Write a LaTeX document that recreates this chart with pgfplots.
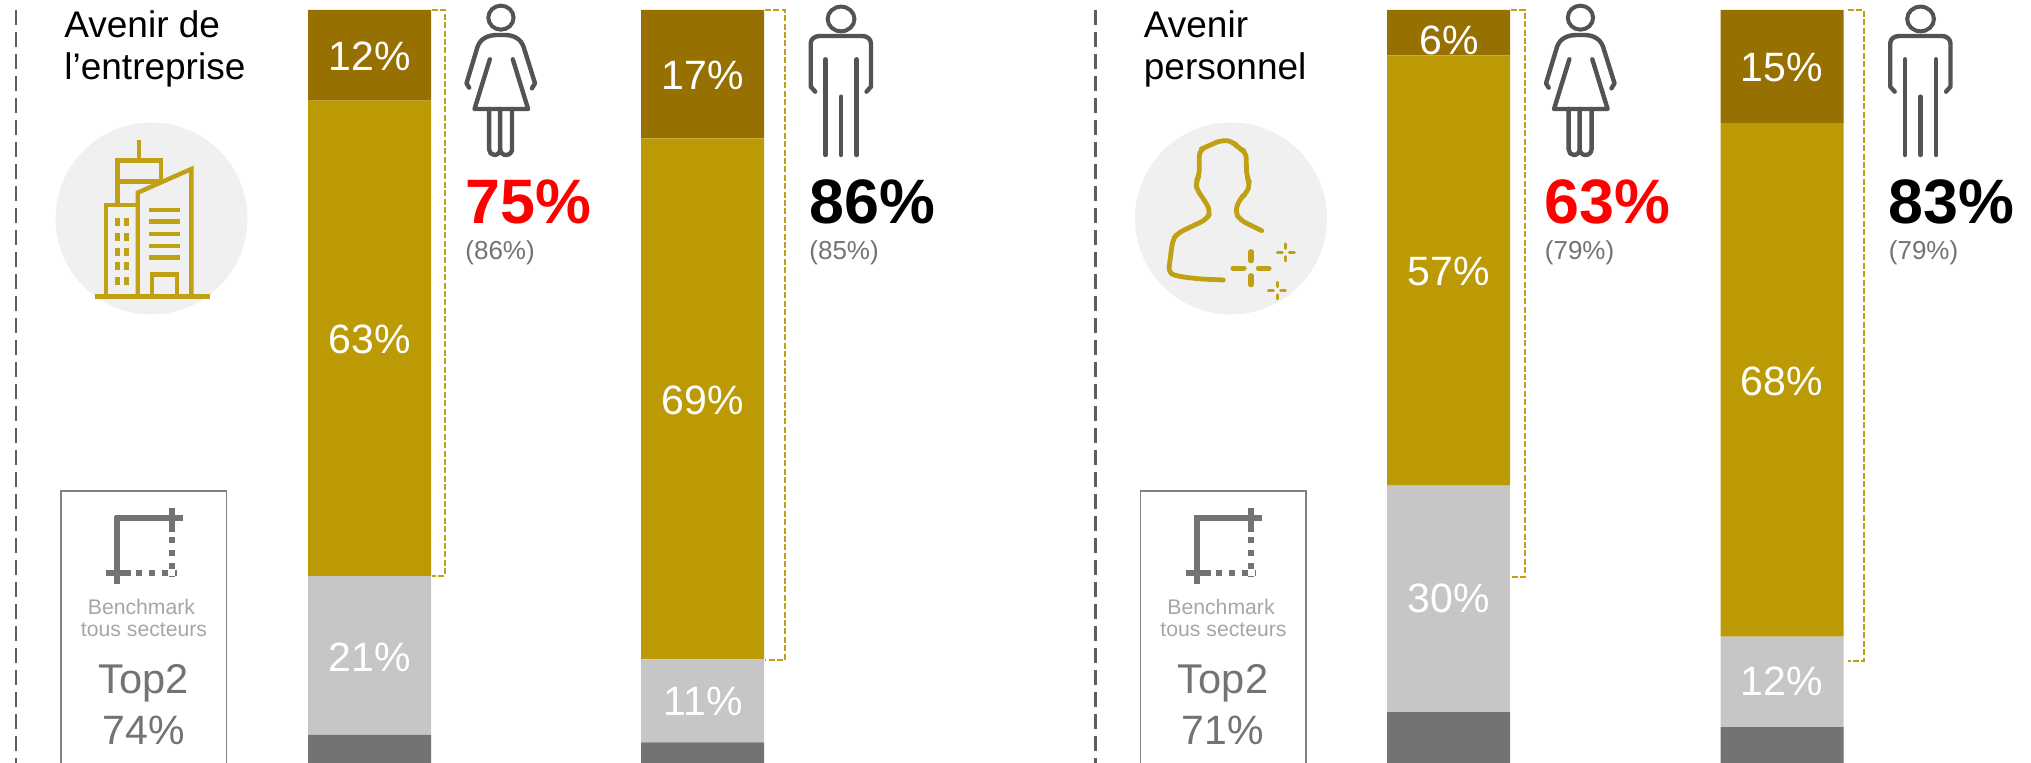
\documentclass[border=0pt]{standalone}
\usepackage{fontspec}
\setmainfont{Liberation Sans}
\usepackage{pgfplots}
\usepackage{pgfplotstable}
\pgfplotsset{compat=1.18}
\definecolor{topgold}{HTML}{967000}
\definecolor{gold}{HTML}{BC9A06}
\definecolor{lgrey}{HTML}{C6C6C6}
\definecolor{dgrey}{HTML}{737373}
\definecolor{icon}{HTML}{C0A015}
\definecolor{circ}{HTML}{F0F0F0}
\definecolor{bench}{HTML}{A6A6A6}
\definecolor{pers}{HTML}{404040}
\pgfplotstableread{
x rest neutral agree strong
369.5 4 21 63 12
702.5 3 11 69 17
1448.5 7 30 57 6
1782 5 12 68 15
}\bars
\newcommand{\fs}[1]{\fontsize{#1}{#1}\selectfont}
% ---- one panel's furniture, in pixel coordinates
\newcommand{\commonpanel}[6]{%
  % dashed separator
  \draw[pers!85,line width=1.1pt,dash pattern=on 7.5pt off 3.5pt] (16,10)--(16,770);
  % title
  \node[anchor=base west,inner sep=0pt] at (64,38) {\fs{18.5}#1};
  \node[anchor=base west,inner sep=0pt] at (64,80) {\fs{18.5}#2};
  % circle
  \fill[circ] (151.5,218.5) circle[radius=48pt];
  % benchmark box
  \draw[dgrey!90,line width=0.8pt] (61,800)--(61,491)--(226.5,491)--(226.5,800);
  \begin{scope}[x=0.19135pt,y=-0.16667pt,shift={(0,1320)}]
    \draw[dgrey,line width=3pt] (300,235)--(478,235);
    \draw[dgrey,line width=3pt] (307,228)--(307,432);
    \draw[dgrey,line width=3pt] (449,203)--(449,277);
    \draw[dgrey,line width=3pt] (278,400)--(343,400);
    \draw[dgrey,line width=3pt,dash pattern=on 3pt off 3.5pt] (449,292)--(449,412);
    \draw[dgrey,line width=3pt,dash pattern=on 3pt off 3.5pt] (356,400)--(462,400);
  \end{scope}
  \node[text=bench,anchor=base,inner sep=0pt] at (141.5,615) {\fs{10.6}Benchmark};
  \node[text=bench,anchor=base,inner sep=0pt] at (144,637) {\fs{10.6}tous secteurs};
  \node[text=dgrey,anchor=base,inner sep=0pt] at (143.5,694) {\fs{20.8}Top2};
  \node[text=dgrey,anchor=base,inner sep=0pt] at (143.5,745) {\fs{20.5}#3};
  % woman
  \begin{scope}[x=0.19135pt,y=-0.16667pt,xshift=0pt]
    \draw[pers!90,line width=2pt,line join=round,line cap=round]
      (1309,53) ellipse[x radius=33,y radius=36];
    \draw[pers!90,line width=2.2pt,line join=round,line cap=round]
      (1226,263)--(1219,250)--(1248,140) to[out=70,in=180] (1300,105)--(1318,105) to[out=0,in=110] (1368,140)--(1398,250)--(1390,265);
    \draw[pers!90,line width=2.2pt,line join=round,line cap=round]
      (1280,178)--(1240,327)--(1380,327)--(1340,178);
    \draw[pers!90,line width=2.2pt,line join=round,line cap=round]
      (1278,327)--(1278,448) to[out=-90,in=180] (1292,465) to[out=0,in=-90] (1307,448)--(1307,327);
    \draw[pers!90,line width=2.2pt,line join=round,line cap=round]
      (1338,327)--(1338,448) to[out=-90,in=0] (1322,465) to[out=180,in=-90] (1307,448);
  \end{scope}
  % man
  \begin{scope}[shift={(600,0)},x=0.22321pt,y=-0.16667pt]
    \draw[pers!90,line width=2pt] (540,57) ellipse[x radius=30,y radius=37];
    \draw[pers!90,line width=2.2pt,line join=round,line cap=round]
      (482,275)--(472,260)--(472,130) to[out=90,in=180] (492,108)--(587,108) to[out=0,in=90] (607,130)--(607,260)--(597,275);
    \draw[pers!90,line width=2.2pt,line cap=round] (505,178)--(505,465);
    \draw[pers!90,line width=2.2pt,line cap=round] (575,178)--(575,465);
    \draw[pers!90,line width=2.2pt,line cap=round] (540,290)--(540,465);
  \end{scope}
  % big numbers
  \node[text=#4,anchor=base west,inner sep=0pt] at (465,224) {\fs{31.4}\bfseries #5};
  \node[text=dgrey,anchor=base west,inner sep=0pt] at (465,260) {\fs{13}#6};
}
\begin{document}
\begin{tikzpicture}
\useasboundingbox (0,0) rectangle (1015.5pt,381.5pt);
\clip (0,0) rectangle (1015.5pt,381.5pt);
\begin{axis}[
  at={(0pt,0pt)},anchor=south west,
  scale only axis,width=1015.5pt,height=381.5pt,
  xmin=0,xmax=2031,ymin=0.265,ymax=101.325,
  axis lines=none,
  ybar stacked,bar width=61.5pt,
]
\addplot[fill=dgrey,draw=none] table[x=x,y=rest]{\bars};
\addplot[fill=lgrey,draw=none] table[x=x,y=neutral]{\bars};
\addplot[fill=gold,draw=none] table[x=x,y=agree]{\bars};
\addplot[fill=topgold,draw=none] table[x=x,y=strong]{\bars};
\end{axis}
\begin{scope}[shift={(0pt,381.5pt)},x=0.5pt,y=-0.5pt]
  % left panel
  \commonpanel{Avenir de}{l’entreprise}{74\%}{red}{75\%}{(86\%)}
  \node[text=black,anchor=base west,inner sep=0pt] at (809,224) {\fs{31.4}\bfseries 86\%};
  \node[text=dgrey,anchor=base west,inner sep=0pt] at (809,260) {\fs{13}(85\%)};
  % right panel
  \begin{scope}[xshift=539.75pt]
    \commonpanel{Avenir}{personnel}{71\%}{red}{63\%}{(79\%)}
    \node[text=black,anchor=base west,inner sep=0pt] at (809,224) {\fs{31.4}\bfseries 83\%};
    \node[text=dgrey,anchor=base west,inner sep=0pt] at (809,260) {\fs{13}(79\%)};
  \end{scope}
  % brackets
  \foreach \a/\b/\yy in {432/445/576,765/785/660,1511/1525/577,1848/1864/661}{
    \draw[icon,line width=1.3pt,dash pattern=on 3pt off 1.2pt] (\a,10)--(\b,10)--(\b,\yy)--(\a,\yy);
  }
  % bar labels
  \foreach \xx/\yy/\t in {370/56/12,370/339/63,370/657/21,703/75/17,703/400/69,703/701/11,1449/40/6,1449/271/57,1449/598/30,1782/67/15,1782/381/68,1782/681/12}{
    \node[text=white,inner sep=0pt] at (\xx,\yy) {\fs{20.5}\t\%};
  }
  % building icon
  \begin{scope}[x=0.19135pt,y=-0.16667pt,line width=2.2pt,draw=icon]
    \draw[icon,line width=2.4pt] (247,890)--(548,890);
    \draw[icon] (363,420)--(363,480);
    \draw[icon] (307,610)--(307,482)--(420,482)--(420,545)--(307,545);
    \draw[icon] (277,890)--(277,615)--(360,615);
    \draw[icon] (360,890)--(360,578)--(500,507)--(500,890);
    \foreach \yy in {630,665,702,738,773}{\draw[icon] (390,\yy)--(470,\yy);}
    \draw[icon] (397,890)--(397,823)--(463,823)--(463,890);
    \foreach \yy in {665,710,755,798,842}{
      \draw[icon,line width=2.6pt] (306,\yy-12)--(306,\yy+12);
      \draw[icon,line width=2.6pt] (331,\yy-12)--(331,\yy+12);
    }
  \end{scope}
  % person icon
  \begin{scope}[shift={(1100,100)},x=0.16667pt,y=-0.16667pt]
    \draw[icon,line width=2.4pt,line join=round,line cap=round,rounded corners=3pt]
      (370,540)--(300,537)--(240,530)--(205,520)--(218,420)--(232,400)--(320,358)--(332,335)--(310,295)--(290,270)--(288,245)--(298,225)--(298,150)--(320,140)--(365,120)--(400,125)--(415,145)--(438,155)--(440,230)--(450,250)--(440,280)--(420,295)--(405,335)--(420,360)--(485,392);
    \draw[icon,line width=2.6pt,line cap=round] (453,455)--(453,482) (453,527)--(453,554) (399,505)--(432,505) (475,505)--(507,505);
    \draw[icon,line width=1.5pt,line cap=round] (557,432)--(557,445) (557,470)--(557,483) (532,457)--(547,457) (568,457)--(583,457);
    \draw[icon,line width=1.5pt,line cap=round] (531,547)--(531,560) (531,585)--(531,597) (505,572)--(520,572) (542,572)--(556,572);
  \end{scope}
\end{scope}
\end{tikzpicture}
\end{document}
